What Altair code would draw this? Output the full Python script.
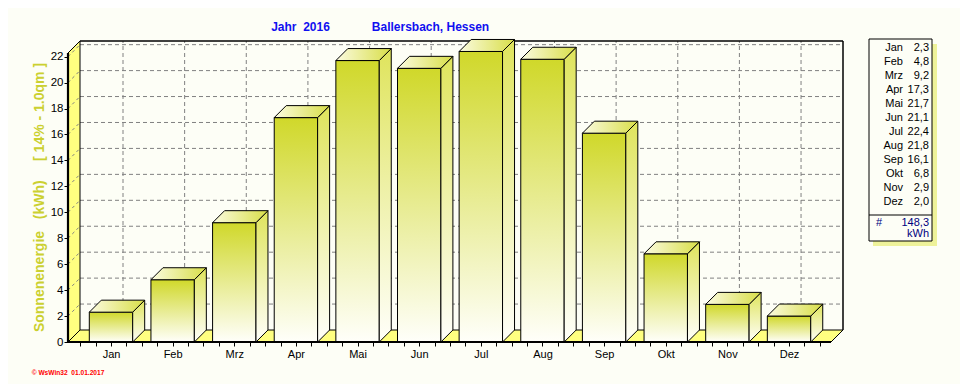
import json
import altair as alt
import pandas as pd

# ---------------- data ----------------
MONTHS = ["Jan", "Feb", "Mrz", "Apr", "Mai", "Jun", "Jul", "Aug", "Sep", "Okt", "Nov", "Dez"]
ENERGY = [2.3, 4.8, 9.2, 17.3, 21.7, 21.1, 22.4, 21.8, 16.1, 6.8, 2.9, 2.0]
TOTAL = 148.3
UNIT = "kWh"
Y_TICKS = list(range(0, 23, 2))
NB = "\u00a0"
TITLE_YEAR = "Jahr" + NB * 2 + "2016"
TITLE_PLACE = "Ballersbach, Hessen"
Y_TITLE = "Sonnenenergie" + NB * 3 + "(kWh)" + NB * 5 + "[ 14% - 1.0qm ]"
FOOTER = "\u00a9 WsWin32" + NB * 2 + "01.01.2017"

# ---------------- layout helpers (page pixels -> data units) ----------------
W, H, M = 952, 376, 8
PX_I, I0 = 61.64, 111.0      # px per month, px of Jan centre
PX_V, V0 = 12.97, 342.0      # px per kWh, px of 0 kWh (front plane)


def xi(px):
    return (px - I0) / PX_I


def yv(py):
    return (V0 - py) / PX_V


DX, DY = 12 / PX_I, 12 / PX_V          # 3-D depth
HALF = 21.7 / PX_I                      # half bar width
FL, BL, BR, FR = xi(68), xi(80), xi(843), xi(831)
TOP_F, TOP_B = yv(53), yv(41)

XS = alt.Scale(domain=[xi(M), xi(M + W)], nice=False, zero=False)
YS = alt.Scale(domain=[yv(M + H), yv(M)], nice=False, zero=False)

FONT = "Liberation Sans"
BG = "#fdfef6"
WALL = "#ffff80"

x_ticks = [i + k * 0.25 for i in range(12) for k in (-2, -1, 0, 1)] + [11.5]
label_expr = f"datum.value % 1 == 0 ? {json.dumps(MONTHS)}[datum.value] : ''"
X_AXIS = alt.Axis(values=x_ticks, labelExpr=label_expr, offset=-(M + H - V0),
                  tickSize=4, tickColor="black", domain=False, grid=False,
                  labelOverlap=False, labelPadding=2, labelFont=FONT,
                  labelFontSize=11, labelColor="black", title=None)
Y_AXIS = alt.Axis(values=Y_TICKS, format="d", offset=-(68 - M), tickSize=4,
                  tickColor="black", domain=False, grid=False, labelPadding=1,
                  labelOverlap=False, labelFont=FONT, labelFontSize=11.5,
                  labelColor="black", title=None)


def X(f, **kw):
    return alt.X(f, type="quantitative", scale=XS, axis=X_AXIS, **kw)


def Y(f, **kw):
    return alt.Y(f, type="quantitative", scale=YS, axis=Y_AXIS, **kw)


def grad(c1, c2, x2=0, y2=1):
    return alt.Gradient(gradient="linear", x1=0, y1=0, x2=x2, y2=y2,
                        stops=[alt.GradientStop(color=c1, offset=0),
                               alt.GradientStop(color=c2, offset=1)])


# ---------------- frame ----------------
grid_rows = []
for t in Y_TICKS[1:]:
    grid_rows.append(dict(x=BL, x2=BR, y=t + DY, y2=t + DY))      # back wall
    grid_rows.append(dict(x=FL, x2=BL, y=t, y2=t + DY))            # side wall
for i in range(len(MONTHS)):
    grid_rows.append(dict(x=i + DX, x2=i + DX, y=DY, y2=TOP_B))
grid_df = pd.DataFrame(grid_rows)
back_grid = alt.Chart(grid_df[grid_df.x >= BL - 1e-9]).mark_rule(
    stroke="#808080", strokeDash=[4, 3], strokeWidth=1).encode(
    x=X("x"), x2="x2", y=Y("y"), y2="y2")
wall_grid = alt.Chart(grid_df[grid_df.x < BL - 1e-9]).mark_rule(
    stroke="#808080", strokeDash=[3, 3], strokeWidth=1).encode(
    x=X("x"), x2="x2", y=Y("y"), y2="y2")

wall = alt.Chart(pd.DataFrame({"x": [FL, BL], "y": [0, DY], "y2": [TOP_F, TOP_B]})).mark_area(
    orient="vertical", fill=WALL, stroke="black", strokeWidth=1).encode(
    x=X("x"), y=Y("y", stack=None), y2="y2")
floor = alt.Chart(pd.DataFrame({"y": [0, DY], "xa": [FL, BL], "xb": [FR, BR]})).mark_area(
    orient="horizontal", fill=WALL, stroke="black", strokeWidth=1).encode(
    y=Y("y"), x=X("xa", stack=None), x2="xb")
frame = alt.Chart(pd.DataFrame({"x": [BL, BR], "x2": [BR, BR], "y": [TOP_B, DY],
                                "y2": [TOP_B, TOP_B]})).mark_rule(
    stroke="black", strokeWidth=1.5).encode(x=X("x"), x2="x2", y=Y("y"), y2="y2")

# ---------------- bars ----------------
front_df = pd.DataFrame({"m": MONTHS, "x": [i - HALF for i in range(12)],
                         "x2": [i + HALF for i in range(12)], "y": 0.0, "y2": ENERGY})
side_rows, top_rows = [], []
for i, (m, v) in enumerate(zip(MONTHS, ENERGY)):
    side_rows += [dict(m=m, x=i + HALF, y=0.0, y2=v), dict(m=m, x=i + HALF + DX, y=DY, y2=v + DY)]
    top_rows += [dict(m=m, y=v, xa=i - HALF, xb=i + HALF),
                 dict(m=m, y=v + DY, xa=i - HALF + DX, xb=i + HALF + DX)]

front = alt.Chart(front_df).mark_rect(
    fill=grad("#d0d82a", "#fffffa"), stroke="black", strokeWidth=1).encode(
    x=X("x"), x2="x2", y=Y("y"), y2="y2")
side = alt.Chart(pd.DataFrame(side_rows)).mark_area(
    orient="vertical", fill=grad("#dfe45c", "#fffffa"), stroke="black", strokeWidth=1).encode(
    x=X("x"), y=Y("y", stack=None), y2="y2", detail="m:N")
top = alt.Chart(pd.DataFrame(top_rows)).mark_area(
    orient="horizontal", fill=grad("#fbfbe0", "#d8de48", x2=1, y2=0), stroke="black",
    strokeWidth=1).encode(
    y=Y("y"), x=X("xa", stack=None), x2="xb", detail="m:N")

axis_lines = alt.Chart(pd.DataFrame({"x": [FL, FL], "x2": [FL, FR], "y": [0.0, 0.0],
                                     "y2": [TOP_F, 0.0]})).mark_rule(
    stroke="black", strokeWidth=2.2).encode(x=X("x"), x2="x2", y=Y("y"), y2="y2")

# ---------------- titles ----------------
titles = alt.Chart(pd.DataFrame({"t": [TITLE_YEAR, TITLE_PLACE],
                                 "x": [xi(300.5), xi(430.5)], "y": [yv(30.5), yv(30.5)]})).mark_text(
    font=FONT, fontSize=12, fontWeight="bold", color="#1010f0", baseline="alphabetic",
    align="center").encode(x=X("x"), y=Y("y"), text="t:N")
ytitle = alt.Chart(pd.DataFrame({"t": [Y_TITLE], "x": [xi(40)], "y": [yv(197.5)]})).mark_text(
    font=FONT, fontSize=14, fontWeight="bold", color="#cbd030", angle=270, align="center",
    baseline="middle").encode(x=X("x"), y=Y("y"), text="t:N")
footer = alt.Chart(pd.DataFrame({"t": [FOOTER], "x": [xi(68)], "y": [yv(373)]})).mark_text(
    font=FONT, fontSize=6.6, fontWeight="bold", color="#ff0000", align="center",
    baseline="middle").encode(x=X("x"), y=Y("y"), text="t:N")

# ---------------- value table (legend box) ----------------
box = alt.Chart(pd.DataFrame({"x": [xi(873), xi(869)], "x2": [xi(937), xi(932)],
                              "y": [yv(246), yv(241)], "y2": [yv(44), yv(39)],
                              "f": ["#eef29a", BG], "w": [0, 1]})).mark_rect(
    stroke="black").encode(x=X("x"), x2="x2", y=Y("y"), y2="y2",
                           fill=alt.Fill("f:N", scale=None),
                           strokeWidth=alt.StrokeWidth("w:Q", scale=None))
sep = alt.Chart(pd.DataFrame({"x": [xi(869)], "x2": [xi(932)], "y": [yv(215)]})).mark_rule(
    stroke="black", strokeWidth=1).encode(x=X("x"), x2="x2", y=Y("y"))
rows_df = pd.DataFrame({"m": MONTHS,
                        "v": [f"{v:.1f}".replace(".", ",") for v in ENERGY],
                        "y": [yv(48.3 + 14 * k) for k in range(12)],
                        "xm": xi(903), "xv": xi(929)})
leg_m = alt.Chart(rows_df).mark_text(font=FONT, fontSize=11, align="right",
                                     baseline="middle", color="black").encode(
    x=X("xm"), y=Y("y"), text="m:N")
leg_v = alt.Chart(rows_df).mark_text(font=FONT, fontSize=11, align="right",
                                     baseline="middle", color="black").encode(
    x=X("xv"), y=Y("y"), text="v:N")
sum_df = pd.DataFrame({"t": ["#", f"{TOTAL:.1f}".replace(".", ","), UNIT],
                       "x": [xi(876), xi(929), xi(929)],
                       "a": ["left", "right", "right"],
                       "y": [yv(223), yv(223), yv(234)]})
sum_l = alt.Chart(sum_df[sum_df.a == "left"]).mark_text(
    font=FONT, fontSize=11, align="left", baseline="middle", color="#000080").encode(
    x=X("x"), y=Y("y"), text="t:N")
sum_r = alt.Chart(sum_df[sum_df.a == "right"]).mark_text(
    font=FONT, fontSize=11, align="right", baseline="middle", color="#000080").encode(
    x=X("x"), y=Y("y"), text="t:N")

chart = alt.layer(
    back_grid, wall, floor, wall_grid, frame, front, side, top, axis_lines,
    titles, ytitle, footer, box, sep, leg_m, leg_v, sum_l, sum_r
).properties(
    width=W, height=H, autosize=alt.AutoSizeParams(type="none"), padding=0, background=BG
).configure_view(stroke=None)

chart.save("out.html", embed_options={"renderer": "svg", "actions": False})
